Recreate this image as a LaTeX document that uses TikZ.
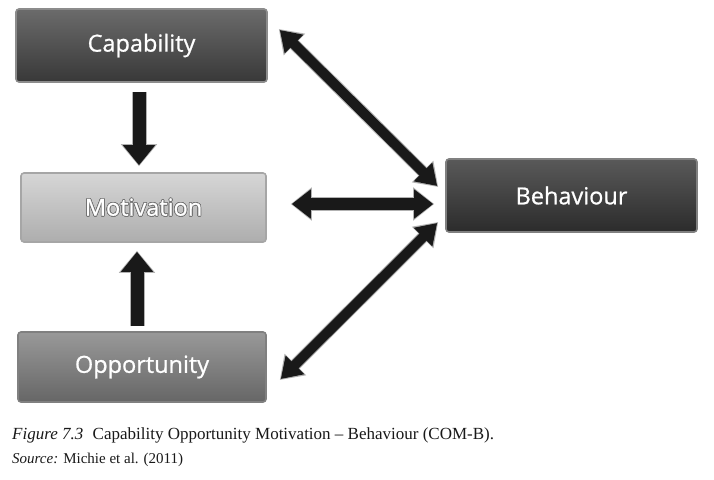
\documentclass[tikz,border=0pt]{standalone}
\usepackage{fontspec}
\setmainfont{Liberation Serif}
\newfontfamily\boxfont[FakeBold=0.8]{Open Sans}
\usepackage{contour}
\contourlength{0.7pt}
\usetikzlibrary{arrows.meta,calc}
\tikzset{
  cbox/.style={draw=#1, line width=1.6pt, rounded corners=3pt, text=white,
    font=\boxfont\fontsize{23.5}{26}\selectfont, inner sep=0pt},
  outerarrow/.style={line width=#1, draw=black!30},
  innerarrow/.style={line width=#1, draw=black!90},
}
\begin{document}
\begin{tikzpicture}[x=1pt,y=-1pt]
\useasboundingbox (0,0) rectangle (714,479);
\fill[white] (0,0) rectangle (714,479);

\node[cbox=black!45, top color=black!58, bottom color=black!78,
  minimum width=251pt, minimum height=73pt] (cap) at (141.5,45.5) {Capability};
\node[cbox=black!35, top color=black!16, bottom color=black!32,
  minimum width=245pt, minimum height=69pt] (mot) at (143.5,207.5)
  {\contour{black!55}{Motivation}};
\node[cbox=black!50, top color=black!40, bottom color=black!60,
  minimum width=248pt, minimum height=70pt] (opp) at (142,367) {Opportunity};
\node[cbox=black!50, top color=black!65, bottom color=black!83,
  minimum width=251pt, minimum height=73pt] (beh) at (571.5,195.5) {Behaviour};

% vertical arrows
\draw[outerarrow=15pt, -{Triangle[length=22pt,width=35pt]}]
  ($(cap.south)+(-2.5,9)$) -- ($(mot.north)+(-4.5,-6)$);
\draw[innerarrow=13pt, -{Triangle[length=20pt,width=31pt]}]
  ($(cap.south)+(-2.5,9)$) -- ($(mot.north)+(-4.5,-7)$);

\draw[outerarrow=15pt, -{Triangle[length=22pt,width=35pt]}]
  ($(opp.north)+(-5,-5)$) -- ($(mot.south)+(-6.5,8)$);
\draw[innerarrow=13pt, -{Triangle[length=20pt,width=31pt]}]
  ($(opp.north)+(-5,-5)$) -- ($(mot.south)+(-6.5,9)$);

% horizontal double arrow
\draw[outerarrow=14pt, {Triangle[length=21pt,width=32pt]}-{Triangle[length=21pt,width=32pt]}]
  ($(mot.east)+(24,-3.5)$) -- ($(beh.west)+(-11,8.5)$);
\draw[innerarrow=12pt, {Triangle[length=19pt,width=28pt]}-{Triangle[length=19pt,width=28pt]}]
  ($(mot.east)+(25,-3.5)$) -- ($(beh.west)+(-12,8.5)$);

% diagonal double arrows
\draw[outerarrow=12pt, {Triangle[length=22pt,width=29pt]}-{Triangle[length=22pt,width=29pt]}]
  ($(cap.east)+(11,-16.5)$) -- ($(beh.west)+(-7,-8.5)$);
\draw[innerarrow=10pt, {Triangle[length=20pt,width=25pt]}-{Triangle[length=20pt,width=25pt]}]
  ($(cap.east)+(12,-15.5)$) -- ($(beh.west)+(-8,-9.5)$);

\draw[outerarrow=12pt, {Triangle[length=22pt,width=29pt]}-{Triangle[length=22pt,width=29pt]}]
  ($(opp.east)+(13,13)$) -- ($(beh.west)+(-7,26.5)$);
\draw[innerarrow=10pt, {Triangle[length=20pt,width=25pt]}-{Triangle[length=20pt,width=25pt]}]
  ($(opp.east)+(14,12)$) -- ($(beh.west)+(-8,27.5)$);

% caption
\node[anchor=base west, inner sep=0pt, text=black!90, font=\fontsize{17}{20}\selectfont]
  (fig) at (12,439) {\textit{Figure 7.3}\hspace{0.55em}Capability Opportunity Motivation – Behaviour (COM-B).};
\node[anchor=base west, inner sep=0pt, text=black!90, font=\fontsize{15}{18}\selectfont]
  (src) at (12,463) {\textit{Source:} Michie et al. (2011)};
\end{tikzpicture}
\end{document}
